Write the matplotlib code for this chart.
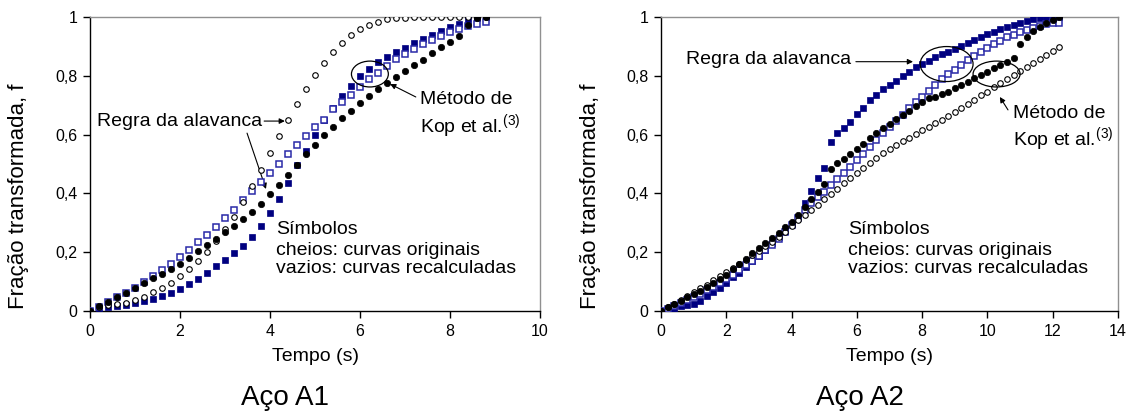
import matplotlib
matplotlib.use("Agg")
import matplotlib.pyplot as plt
from matplotlib.patches import Ellipse
import numpy as np

plt.rcParams['font.family'] = ['Liberation Sans', 'DejaVu Sans']
plt.rcParams['mathtext.fontset'] = 'custom'
plt.rcParams['mathtext.rm'] = 'Liberation Sans'

# ---------------- data: Aço A1 ----------------
t_a1 = [round(0.2 * i, 1) for i in range(45)]  # 0 .. 8.8 s
a1_orig_lever = [0, 0.018, 0.032, 0.048, 0.062, 0.079, 0.096, 0.111, 0.127, 0.144,
                 0.161, 0.181, 0.203, 0.223, 0.246, 0.270, 0.290, 0.313, 0.338, 0.365,
                 0.397, 0.429, 0.463, 0.497, 0.533, 0.566, 0.599, 0.627, 0.655, 0.681,
                 0.706, 0.731, 0.755, 0.776, 0.795, 0.816, 0.836, 0.855, 0.879, 0.897,
                 0.916, 0.937, 0.973, 0.995, 1.0]
a1_recalc_lever = [0, 0.014, 0.019, 0.023, 0.028, 0.037, 0.049, 0.064, 0.078, 0.096,
                   0.118, 0.143, 0.170, 0.202, 0.238, 0.279, 0.321, 0.372, 0.425, 0.478,
                   0.537, 0.595, 0.651, 0.704, 0.755, 0.803, 0.845, 0.880, 0.911, 0.938,
                   0.958, 0.973, 0.984, 0.992, 0.995, 0.998, 1.0, 1.0, 1.0, 1.0,
                   1.0, 1.0, 1.0, 1.0, 1.0]
a1_orig_kop = [0, 0.009, 0.014, 0.018, 0.022, 0.026, 0.033, 0.042, 0.051, 0.061,
               0.075, 0.092, 0.110, 0.129, 0.152, 0.175, 0.197, 0.222, 0.252, 0.288,
               0.333, 0.382, 0.437, 0.495, 0.545, 0.599, 0.648, 0.689, 0.731, 0.765,
               0.798, 0.823, 0.847, 0.865, 0.880, 0.896, 0.910, 0.924, 0.939, 0.952,
               0.965, 0.977, 0.990, 0.998, 1.0]
a1_recalc_kop = [0, 0.015, 0.032, 0.048, 0.062, 0.079, 0.099, 0.119, 0.139, 0.161,
                 0.183, 0.207, 0.233, 0.260, 0.287, 0.315, 0.345, 0.376, 0.407, 0.438,
                 0.470, 0.501, 0.533, 0.565, 0.595, 0.625, 0.650, 0.687, 0.712, 0.735,
                 0.761, 0.788, 0.811, 0.835, 0.856, 0.874, 0.891, 0.907, 0.923, 0.937,
                 0.949, 0.959, 0.968, 0.976, 0.982]

# ---------------- data: Aço A2 ----------------
t_a2 = [round(0.2 * i, 1) for i in range(62)]  # 0 .. 12.2 s
a2_orig_lever = [0, 0.012, 0.023, 0.035, 0.046, 0.058, 0.069, 0.083, 0.096, 0.109,
                 0.124, 0.142, 0.160, 0.178, 0.196, 0.213, 0.230, 0.249, 0.266, 0.286,
                 0.304, 0.327, 0.353, 0.381, 0.406, 0.431, 0.482, 0.502, 0.518, 0.533,
                 0.550, 0.567, 0.590, 0.607, 0.622, 0.637, 0.652, 0.667, 0.680, 0.697,
                 0.712, 0.723, 0.729, 0.737, 0.746, 0.757, 0.769, 0.780, 0.792, 0.803,
                 0.814, 0.825, 0.837, 0.848, 0.859, 0.907, 0.933, 0.952, 0.967, 0.978,
                 0.990, 1.0]
a2_recalc_lever = [0, 0.012, 0.025, 0.038, 0.051, 0.064, 0.077, 0.090, 0.104, 0.118,
                   0.132, 0.146, 0.160, 0.175, 0.190, 0.205, 0.220, 0.236, 0.252, 0.268,
                   0.288, 0.308, 0.326, 0.344, 0.362, 0.380, 0.398, 0.416, 0.434, 0.452,
                   0.470, 0.487, 0.504, 0.520, 0.536, 0.551, 0.564, 0.578, 0.589, 0.601,
                   0.615, 0.627, 0.639, 0.651, 0.664, 0.676, 0.691, 0.704, 0.718, 0.733,
                   0.746, 0.761, 0.776, 0.790, 0.803, 0.816, 0.830, 0.843, 0.857, 0.871,
                   0.885, 0.899]
a2_orig_kop = [0, 0.003, 0.007, 0.018, 0.019, 0.024, 0.035, 0.051, 0.066, 0.079,
               0.096, 0.115, 0.130, 0.149, 0.170, 0.187, 0.207, 0.230, 0.251, 0.273,
               0.296, 0.321, 0.366, 0.409, 0.451, 0.485, 0.576, 0.604, 0.624, 0.643,
               0.670, 0.692, 0.718, 0.736, 0.754, 0.770, 0.784, 0.799, 0.814, 0.831,
               0.839, 0.851, 0.863, 0.874, 0.882, 0.890, 0.902, 0.913, 0.922, 0.933,
               0.942, 0.950, 0.958, 0.967, 0.973, 0.981, 0.988, 0.993, 0.997, 1.0,
               1.0, 1.0]
a2_recalc_kop = [0, 0.007, 0.016, 0.026, 0.036, 0.047, 0.058, 0.070, 0.083, 0.096,
                 0.110, 0.124, 0.139, 0.155, 0.171, 0.188, 0.206, 0.225, 0.246, 0.268,
                 0.292, 0.318, 0.343, 0.366, 0.387, 0.406, 0.428, 0.448, 0.468, 0.491,
                 0.514, 0.535, 0.559, 0.581, 0.604, 0.626, 0.645, 0.667, 0.689, 0.711,
                 0.729, 0.749, 0.770, 0.788, 0.806, 0.820, 0.837, 0.854, 0.867, 0.882,
                 0.896, 0.908, 0.919, 0.931, 0.940, 0.948, 0.956, 0.964, 0.970, 0.975,
                 0.978, 0.981]

y_ticks = [0, 0.2, 0.4, 0.6, 0.8, 1.0]
y_ticklabels = ['0', '0,2', '0,4', '0,6', '0,8', '1']
x_ticks_a1 = [0, 2, 4, 6, 8, 10]
x_ticks_a2 = [0, 2, 4, 6, 8, 10, 12, 14]

NAVY = '#000080'
OPEN_BLUE = '#2a2aa8'

fig = plt.figure(figsize=(11.35, 4.19), dpi=100)
ax1 = fig.add_axes([90/1135, 1-311/419, 450/1135, 294/419])
ax2 = fig.add_axes([661/1135, 1-311/419, 457/1135, 294/419])

def draw(ax, t, ol, rl, ok, rk, xmax, xticks, ylab_x):
    ax.plot(t, ok, ls='none', marker='s', ms=4.8, mfc=NAVY, mec=NAVY, mew=0.5, zorder=3)
    ax.plot(t, rk, ls='none', marker='s', ms=4.5, mfc='white', mec=OPEN_BLUE, mew=1.1, zorder=4)
    ax.plot(t, ol, ls='none', marker='o', ms=4.6, mfc='black', mec='black', mew=0.5, zorder=5)
    ax.plot(t, rl, ls='none', marker='o', ms=4.0, mfc='white', mec='black', mew=0.8, zorder=4)
    ax.set_xlim(0, xmax)
    ax.set_ylim(0, 1)
    ax.set_xticks(xticks)
    ax.set_xticklabels([str(v) for v in xticks])
    ax.set_yticks(y_ticks)
    ax.set_yticklabels(y_ticklabels)
    ax.tick_params(direction='out', length=5, width=1, labelsize=11.5, pad=4)
    for s in ['top', 'right']:
        ax.spines[s].set_color('#909090')
        ax.spines[s].set_linewidth(1.0)
    for s in ['left', 'bottom']:
        ax.spines[s].set_color('black')
        ax.spines[s].set_linewidth(1.0)
    ax.set_xlabel('Tempo (s)', fontsize=14, labelpad=7)
    ax.set_ylabel('Fração transformada, f', fontsize=16)
    ax.yaxis.set_label_coords(ylab_x, 0.39)

draw(ax1, t_a1, a1_orig_lever, a1_recalc_lever, a1_orig_kop, a1_recalc_kop, 10, x_ticks_a1,
     (29 - 90) / 450)
draw(ax2, t_a2, a2_orig_lever, a2_recalc_lever, a2_orig_kop, a2_recalc_kop, 14, x_ticks_a2,
     (601 - 661) / 457)

FS = 14
arrow = dict(arrowstyle='-|>', color='black', lw=0.8, mutation_scale=8, shrinkA=0, shrinkB=0)

# --- annotations Aço A1 ---
ax1.text(0.16, 0.643, 'Regra da alavanca', fontsize=FS, ha='left', va='center')
ax1.annotate('', xy=(4.33, 0.646), xytext=(3.87, 0.646), arrowprops=arrow)
ax1.annotate('', xy=(3.91, 0.415), xytext=(3.49, 0.605), arrowprops=arrow)
ax1.add_patch(Ellipse((6.22, 0.806), 0.82, 0.088, fill=False, ec='black', lw=0.9, zorder=6))
ax1.annotate('', xy=(6.67, 0.772), xytext=(7.24, 0.728), arrowprops=arrow)
ax1.text(7.33, 0.721, 'Método de', fontsize=FS, ha='left', va='center')
ax1.text(7.33, 0.626, 'Kop et al.$^{(3)}$', fontsize=FS, ha='left', va='center')
ax1.text(4.13, 0.276, 'Símbolos', fontsize=FS, ha='left', va='center')
ax1.text(4.13, 0.207, 'cheios: curvas originais', fontsize=FS, ha='left', va='center')
ax1.text(4.13, 0.143, 'vazios: curvas recalculadas', fontsize=FS, ha='left', va='center')

# --- annotations Aço A2 ---
ax2.text(0.77, 0.854, 'Regra da alavanca', fontsize=FS, ha='left', va='center')
ax2.annotate('', xy=(7.72, 0.848), xytext=(5.97, 0.848), arrowprops=arrow)
ax2.add_patch(Ellipse((8.75, 0.84), 1.62, 0.119, fill=False, ec='black', lw=0.9, zorder=6))
ax2.add_patch(Ellipse((10.28, 0.806), 1.44, 0.088, fill=False, ec='black', lw=0.9, zorder=6))
ax2.annotate('', xy=(10.38, 0.728), xytext=(10.63, 0.684), arrowprops=arrow)
ax2.text(10.78, 0.673, 'Método de', fontsize=FS, ha='left', va='center')
ax2.text(10.78, 0.582, 'Kop et al.$^{(3)}$', fontsize=FS, ha='left', va='center')
ax2.text(5.73, 0.276, 'Símbolos', fontsize=FS, ha='left', va='center')
ax2.text(5.73, 0.207, 'cheios: curvas originais', fontsize=FS, ha='left', va='center')
ax2.text(5.73, 0.143, 'vazios: curvas recalculadas', fontsize=FS, ha='left', va='center')

fig.text(285/1135, 1-398/419, 'Aço A1', fontsize=20, ha='center', va='center')
fig.text(860/1135, 1-398/419, 'Aço A2', fontsize=20, ha='center', va='center')

fig.savefig('out.png', dpi=100)
